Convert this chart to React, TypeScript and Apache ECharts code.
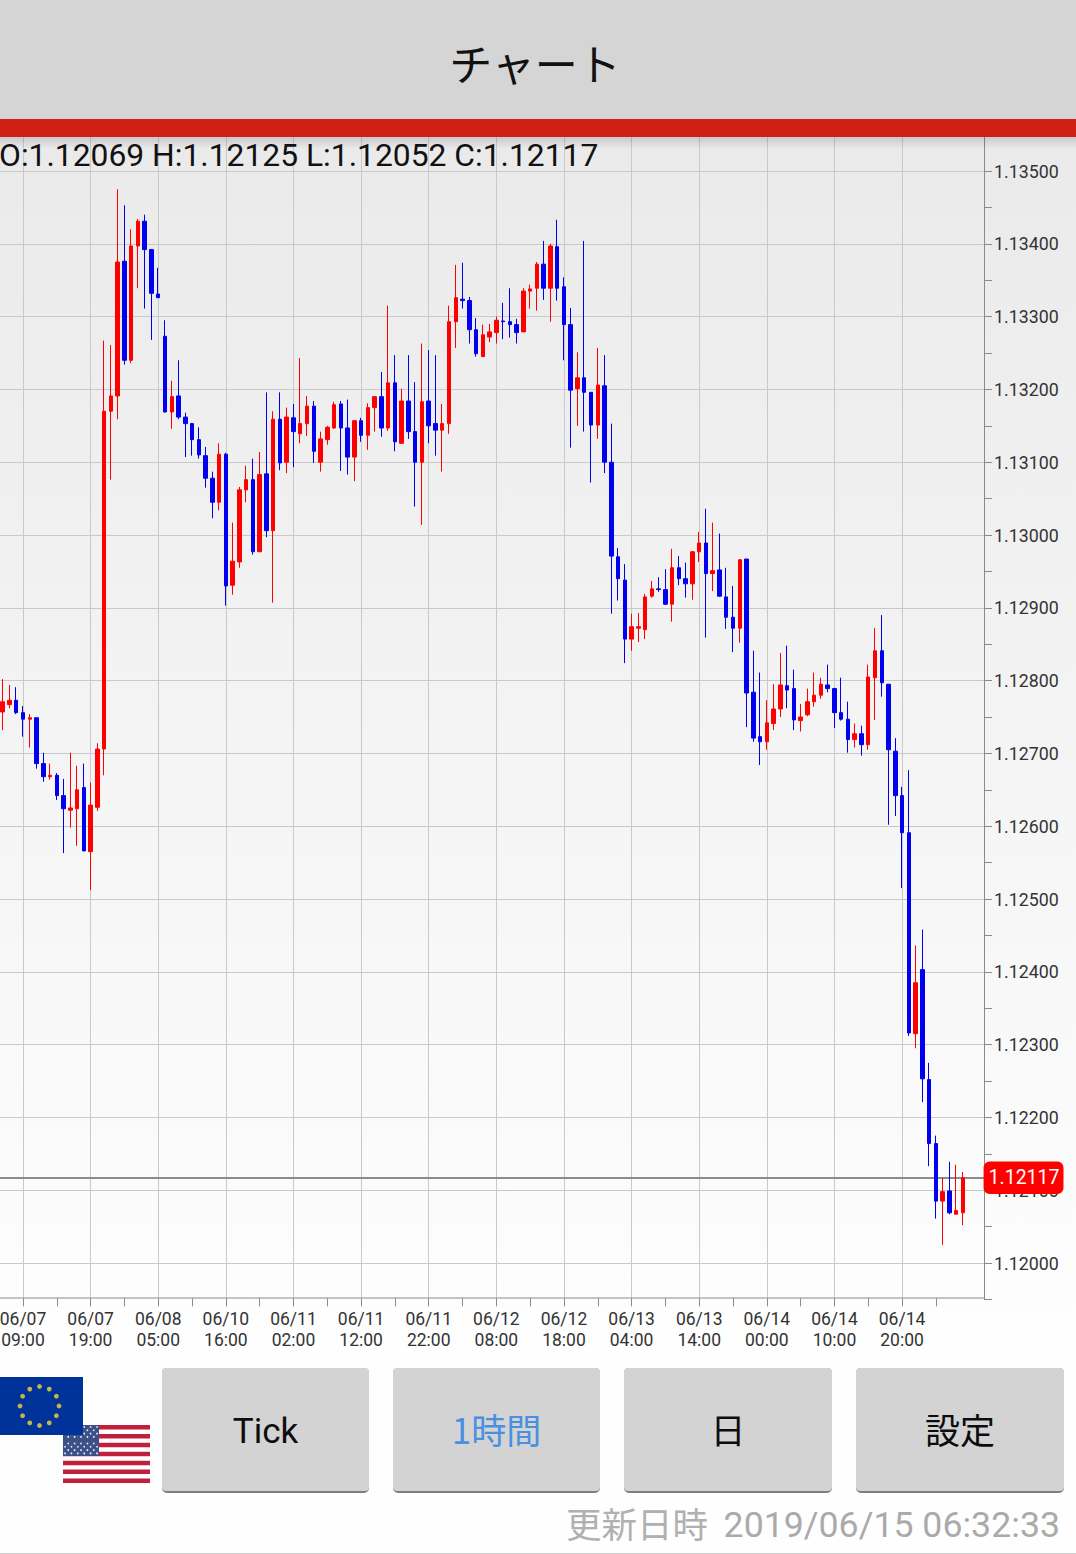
import React, { useEffect, useRef } from "react";
import * as echarts from "echarts";

const opens = [
  112757,112767,112773,112756,112747,112749,112686,112668,112670,112642,
  112622,112624,112653,112565,112626,112706,113170,113191,113376,113240,
  113397,113431,113392,113331,113273,113169,113191,113162,113153,113131,
  113109,113078,113045,113111,112931,112963,113062,113076,112977,113084,
  113006,113159,113100,113161,113139,113153,113177,113100,113131,113147,
  113180,113147,113107,113157,113137,113175,113190,113147,113209,113126,
  113184,113142,113100,113184,113153,113144,113153,113293,113324,113322,
  113282,113245,113272,113278,113294,113293,113289,113279,113335,113339,
  113372,113339,113396,113341,113289,113201,113216,113196,113151,113205,
  113100,112970,112938,112857,112872,112870,112916,112926,112925,112905,
  112955,112940,112933,112977,112989,112947,112952,112915,112887,112872,
  112967,112784,112723,112716,112741,112761,112793,112789,112745,112753,
  112771,112780,112794,112789,112756,112747,112719,112727,112712,112804,
  112841,112795,112703,112642,112591,112315,112403,112252,112164,112085,
  112099,112067,112069,
];
const closes = [
  112771,112773,112756,112747,112749,112686,112668,112670,112642,112624,
  112625,112650,112566,112629,112706,113170,113191,113375,113240,113397,
  113431,113392,113332,113326,113169,113190,113162,113153,113131,113110,
  113078,113045,113111,112930,112964,113062,113076,112977,113083,113006,
  113159,113099,113162,113142,113153,113177,113115,113132,113148,113179,
  113147,113107,113157,113137,113175,113190,113147,113209,113128,113184,
  113142,113100,113183,113150,113144,113153,113293,113326,113322,113282,
  113249,113275,113279,113295,113293,113289,113278,113335,113338,113372,
  113339,113397,113339,113289,113199,113216,113196,113151,113206,113100,
  112971,112940,112857,112874,112874,112915,112926,112925,112905,112955,
  112940,112933,112977,112989,112947,112951,112916,112887,112872,112966,
  112783,112721,112716,112742,112761,112794,112787,112746,112750,112771,
  112780,112795,112789,112756,112747,112719,112727,112712,112805,112841,
  112797,112705,112642,112591,112316,112385,112253,112164,112085,112098,
  112069,112072,112117,
];
const lows = [
  112732,112762,112754,112723,112708,112679,112661,112664,112636,112563,
  112598,112573,112566,112512,112621,112670,113076,113159,113234,113236,
  113339,113311,113268,113326,113168,113146,113159,113107,113109,113105,
  113065,113023,113034,112903,112918,112955,113045,112973,112977,112997,
  112907,113089,113085,113093,113126,113136,113099,113087,113124,113146,
  113088,113083,113074,113128,113117,113142,113135,113143,113115,113125,
  113132,113039,113014,113126,113109,113087,113139,113257,113311,113263,
  113245,113245,113265,113263,113269,113271,113263,113279,113311,113308,
  113323,113293,113322,113240,113120,113150,113142,113072,113132,113085,
  112892,112910,112824,112841,112853,112857,112914,112922,112904,112881,
  112931,112914,112911,112963,112859,112923,112915,112871,112839,112852,
  112736,112716,112684,112705,112732,112750,112762,112732,112730,112751,
  112764,112775,112784,112735,112745,112701,112708,112697,112705,112746,
  112778,112602,112614,112515,112312,112295,112221,112133,112061,112025,
  112067,112067,112052,
];
const highs = [
  112802,112794,112791,112765,112754,112749,112701,112686,112673,112665,
  112701,112683,112686,112660,112714,113267,113261,113475,113453,113420,
  113434,113440,113393,113367,113295,113212,113240,113168,113154,113148,
  113121,113087,113126,113113,113017,113066,113095,113105,113114,113196,
  113170,113196,113175,113180,113243,113191,113184,113142,113150,113183,
  113184,113186,113158,113161,113181,113191,113224,113315,113247,113201,
  113247,113210,113263,113254,113247,113180,113315,113371,113374,113327,
  113298,113289,113290,113300,113319,113339,113297,113339,113344,113375,
  113404,113400,113433,113354,113312,113251,113404,113196,113257,113247,
  113153,112982,112960,112892,112893,112919,112937,112942,112953,112981,
  112971,112962,112978,113004,113036,113017,113002,112955,112930,112967,
  112967,112841,112811,112773,112795,112838,112848,112815,112768,112789,
  112811,112804,112822,112790,112804,112771,112741,112738,112822,112872,
  112890,112795,112721,112654,112677,112436,112458,112275,112175,112117,
  112139,112135,112125,
];

const tickLabels = [
  "06/07\n09:00", "06/07\n19:00", "06/08\n05:00", "06/10\n16:00", "06/11\n02:00",
  "06/11\n12:00", "06/11\n22:00", "06/12\n08:00", "06/12\n18:00", "06/13\n04:00",
  "06/13\n14:00", "06/14\n00:00", "06/14\n10:00", "06/14\n20:00",
];
const priceGridValues = [
  1.12, 1.121, 1.122, 1.123, 1.124, 1.125, 1.126, 1.127, 1.128, 1.129,
  1.13, 1.131, 1.132, 1.133, 1.134, 1.135,
];
const lastPrice = 1.12117;
const infoText = "O:1.12069 H:1.12125 L:1.12052 C:1.12117";
const titleText = "チャート";
const buttonLabels = ["Tick", "1時間", "日", "設定"];
const updatedLabel = "更新日時";
const updatedValue = "2019/06/15 06:32:33";

const SLOT_COUNT = 146;
const FIRST_TICK_SLOT = 3;
const LAST_TICK_SLOT = 138;

const categories = Array.from({ length: SLOT_COUNT }, (_, k) => {
  const off = k - FIRST_TICK_SLOT;
  return off >= 0 && off % 10 === 0 ? tickLabels[off / 10] ?? "" : "";
});
const isMajor = (k: number) =>
  k >= FIRST_TICK_SLOT && k <= LAST_TICK_SLOT && (k - FIRST_TICK_SLOT) % 10 === 0;
const isTick = (k: number) =>
  k >= FIRST_TICK_SLOT && k <= LAST_TICK_SLOT && (k - FIRST_TICK_SLOT) % 5 === 0;

const candleData = opens.map((o, i) => [
  o / 100000,
  closes[i] / 100000,
  lows[i] / 100000,
  highs[i] / 100000,
]);

const LATIN = 'Roboto, "Noto Sans CJK JP", sans-serif';
const CJK = '"Noto Sans CJK JP", Roboto, sans-serif';

function flagElements() {
  const els: any[] = [];
  const ux = 63, uy = 1425, uw = 87, uh = 58;
  els.push({ type: "rect", z: 20, shape: { x: ux, y: uy, width: uw, height: uh }, style: { fill: "#ffffff" } });
  for (let s = 0; s < 13; s += 2) {
    els.push({
      type: "rect", z: 20,
      shape: { x: ux, y: uy + (s * uh) / 13, width: uw, height: uh / 13 },
      style: { fill: "#c0203c" },
    });
  }
  els.push({ type: "rect", z: 21, shape: { x: ux, y: uy, width: 36, height: 31 }, style: { fill: "#3c4f86" } });
  for (let r = 0; r < 9; r++) {
    for (let c = 0; c < 11; c++) {
      if ((r + c) % 2 === 0) {
        els.push({
          type: "circle", z: 22,
          shape: { cx: ux + 2 + c * 3.2, cy: uy + 2 + r * 3.3, r: 0.9 },
          style: { fill: "#dfe3ee" },
        });
      }
    }
  }
  els.push({ type: "rect", z: 23, shape: { x: 0, y: 1377, width: 83, height: 58 }, style: { fill: "#003399" } });
  for (let n = 0; n < 12; n++) {
    const a = (n * Math.PI) / 6;
    els.push({
      type: "circle", z: 24,
      shape: { cx: 39.5 + 19.5 * Math.sin(a), cy: 1406 - 19.5 * Math.cos(a), r: 2.4 },
      style: { fill: "#c8b24a" },
    });
  }
  return els;
}

function buttonElements() {
  const xs = [162, 393, 624, 856];
  const ws = [207, 207, 208, 208];
  const colors = ["#0d0d0d", "#4a90e2", "#0d0d0d", "#0d0d0d"];
  const els: any[] = [];
  buttonLabels.forEach((label, i) => {
    els.push({ type: "rect", z: 20, shape: { x: xs[i], y: 1368, width: ws[i], height: 125, r: 5 }, style: { fill: "#7d7d7d" } });
    els.push({ type: "rect", z: 21, shape: { x: xs[i], y: 1368, width: ws[i], height: 123, r: 4 }, style: { fill: "#d3d3d3" } });
    els.push({
      type: "text", z: 22, x: xs[i] + ws[i] / 2, y: i === 0 ? 1431 : 1428,
      style: { text: label, fill: colors[i], font: `35px ${i === 0 ? LATIN : CJK}`, textAlign: "center", textVerticalAlign: "middle" },
    });
  });
  return els;
}

export default function App() {
  const ref = useRef<HTMLDivElement>(null);
  useEffect(() => {
    document.body.style.margin = "0";
    const chart = echarts.init(ref.current!, undefined, { renderer: "svg" });
    chart.setOption({
      animation: false,
      backgroundColor: "transparent",
      grid: {
        left: -0.667,
        right: 89.42,
        top: 134.6,
        bottom: 1554 - 1299.4,
        containLabel: false,
        outerBoundsMode: "none",
      },
      xAxis: {
        type: "category",
        data: categories,
        boundaryGap: true,
        offset: -1,
        axisLine: { show: false },
        axisTick: {
          show: true,
          alignWithLabel: true,
          length: 8,
          interval: (k: number) => isTick(k),
          lineStyle: { color: "#8a8a8a", width: 1 },
        },
        axisLabel: {
          interval: (k: number) => isMajor(k),
          color: "#333333",
          fontFamily: LATIN,
          fontSize: 17.5,
          lineHeight: 21,
          margin: 10,
          hideOverlap: false,
        },
        splitLine: {
          show: true,
          alignWithLabel: true,
          interval: (k: number) => isMajor(k),
          lineStyle: { color: "#c9c9c9", width: 1 },
        },
      },
      yAxis: [
        {
          type: "value",
          position: "right",
          offset: -2.6,
          min: 1.1195,
          max: 1.1355,
          interval: 0.0005,
          scale: true,
          axisLine: { show: true, lineStyle: { color: "#8a8a8a", width: 1 } },
          axisTick: { show: true, length: 8, lineStyle: { color: "#8a8a8a", width: 1 } },
          axisLabel: {
            color: "#333333",
            fontFamily: LATIN,
            fontSize: 17.8,
            margin: 10,
            formatter: (v: number) =>
              Math.round(v * 100000) % 100 === 0 ? v.toFixed(5) : "",
          },
          splitLine: { show: false },
        },
        {
          type: "value",
          position: "right",
          min: 1.1195,
          max: 1.1355,
          interval: 0.0005,
          scale: true,
          axisLine: { show: false },
          axisTick: { show: false, customValues: priceGridValues },
          axisLabel: { show: false },
          splitLine: { show: true, lineStyle: { color: "#c9c9c9", width: 1 } },
        },
      ],
      series: [
        {
          type: "candlestick",
          yAxisIndex: 0,
          data: candleData,
          barWidth: 4,
          itemStyle: {
            color: "#ff0000",
            color0: "#0000ee",
            borderColor: "#ff0000",
            borderColor0: "#0000ee",
            borderWidth: 1,
          },
          markLine: {
            silent: true,
            symbol: "none",
            animation: false,
            precision: 5,
            data: [{ yAxis: lastPrice }],
            lineStyle: { color: "#8c8c8c", width: 2, type: "solid" },
            label: {
              show: true,
              position: "end",
              distance: -3,
              formatter: () => lastPrice.toFixed(5),
              color: "#ffffff",
              backgroundColor: "#ff0000",
              borderRadius: 6,
              fontFamily: LATIN,
              fontSize: 19.5,
              padding: [7, 4, 6, 5],
            },
          },
          z: 5,
        },
      ],
      graphic: {
        elements: [
          { type: "line", z: 4, shape: { x1: 0, y1: 1298, x2: 984, y2: 1298 }, style: { stroke: "#8a8a8a", lineWidth: 1 } },
          { type: "rect", z: 10, shape: { x: 0, y: 0, width: 1076, height: 119 }, style: { fill: "#d5d5d5" } },
          { type: "rect", z: 10, shape: { x: 0, y: 119, width: 1076, height: 18 }, style: { fill: "#cf2013" } },
          {
            type: "rect", z: 9, shape: { x: 0, y: 137, width: 1076, height: 12 },
            style: {
              fill: new echarts.graphic.LinearGradient(0, 0, 0, 1, [
                { offset: 0, color: "rgba(0,0,0,0.14)" },
                { offset: 1, color: "rgba(0,0,0,0)" },
              ]),
            },
          },
          {
            type: "text", z: 11, x: 535, y: 62,
            style: { text: titleText, fill: "#111111", font: `43px ${CJK}`, textAlign: "center", textVerticalAlign: "middle" },
          },
          {
            type: "text", z: 11, x: -1, y: 155,
            style: { text: infoText, fill: "#111111", font: `31.8px ${LATIN}`, textAlign: "left", textVerticalAlign: "middle" },
          },
          ...flagElements(),
          ...buttonElements(),
          {
            type: "text", z: 22, x: 708, y: 1522,
            style: { text: updatedLabel, fill: "#b0b0b0", font: `35.5px ${CJK}`, textAlign: "right", textVerticalAlign: "middle" },
          },
          {
            type: "text", z: 22, x: 1060, y: 1525,
            style: { text: updatedValue, fill: "#aaaaaa", font: `35.7px ${LATIN}`, textAlign: "right", textVerticalAlign: "middle" },
          },
          { type: "line", z: 22, shape: { x1: 0, y1: 1553.5, x2: 1076, y2: 1553.5 }, style: { stroke: "#d0d0d0", lineWidth: 1 } },
        ],
      },
    });
    return () => chart.dispose();
  }, []);
  return (
    <div
      ref={ref}
      style={{
        width: 1076,
        height: 1554,
        background: "linear-gradient(to bottom, #eaeaea 137px, #fefefe 1350px)",
      }}
    />
  );
}
